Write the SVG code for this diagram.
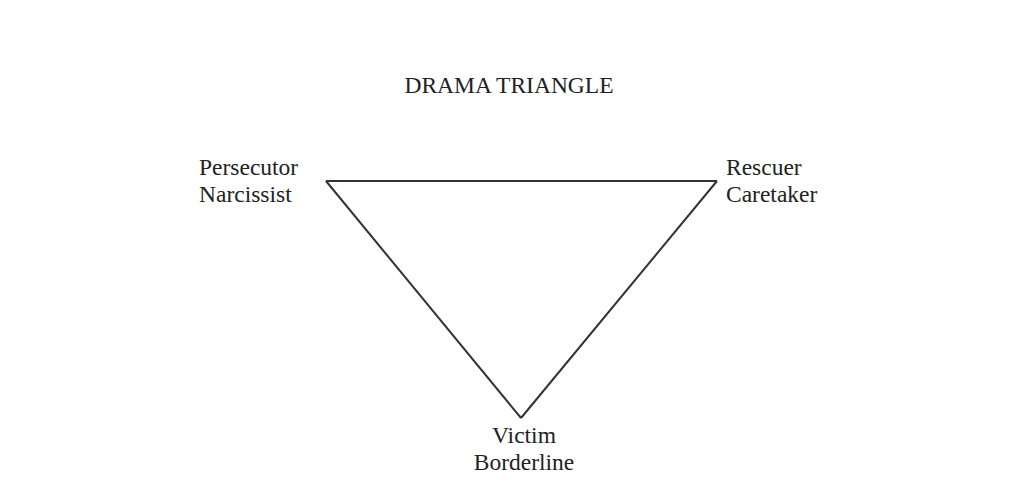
<svg xmlns="http://www.w3.org/2000/svg" width="1024" height="498" viewBox="0 0 1024 498">
<style>
text{font-family:"Liberation Serif","Times New Roman",serif;font-size:23.5px;fill:#222}
.edge{stroke:#333;stroke-width:2;fill:none;stroke-linejoin:miter}
</style>
<rect width="1024" height="498" fill="#ffffff"/>
<text id="title" x="509" y="93" text-anchor="middle">DRAMA TRIANGLE</text>
<g id="connectors">
<line class="edge" x1="326" y1="181" x2="717" y2="181"/>
<line class="edge" x1="326" y1="181" x2="521" y2="418"/>
<line class="edge" x1="717" y1="181" x2="521" y2="418"/>
</g>
<g id="persecutor">
<text x="199" y="175">Persecutor</text>
<text x="199" y="202">Narcissist</text>
</g>
<g id="rescuer">
<text x="726" y="175">Rescuer</text>
<text x="726" y="202">Caretaker</text>
</g>
<g id="victim">
<text x="524" y="443" text-anchor="middle">Victim</text>
<text x="524" y="470" text-anchor="middle">Borderline</text>
</g>
</svg>
